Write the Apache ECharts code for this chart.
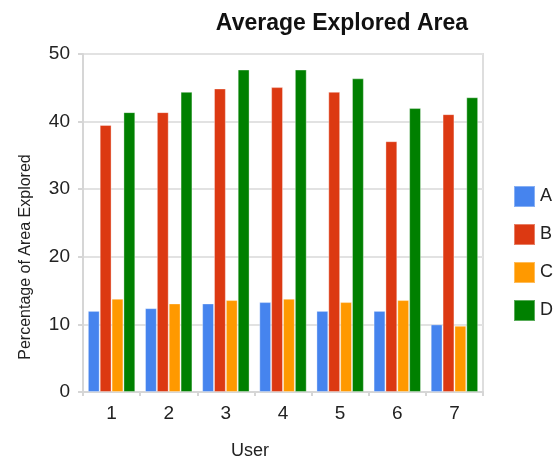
<!DOCTYPE html>
<html>
<head>
<meta charset="utf-8">
<script src="https://cdn.jsdelivr.net/npm/echarts@6/dist/echarts.min.js"></script>
<style>
  html, body { margin: 0; padding: 0; background: #fff; }
  #chart { width: 556px; height: 459px; }
</style>
</head>
<body>
<div id="chart"></div>
<script>
// Average explored area per user, four conditions A–D
var users = ['1', '2', '3', '4', '5', '6', '7'];
var seriesNames = ['A', 'B', 'C', 'D'];
var valuesA = [12.0, 12.4, 13.1, 13.3, 12.0, 12.0, 10.0];
var valuesB = [39.5, 41.4, 44.9, 45.1, 44.4, 37.1, 41.1];
var valuesC = [13.8, 13.1, 13.6, 13.8, 13.3, 13.6, 9.8];
var valuesD = [41.4, 44.4, 47.7, 47.7, 46.4, 42.0, 43.6];
var colors = ['#4684ee', '#dc3912', '#ff9900', '#008000'];

var allValues = [valuesA, valuesB, valuesC, valuesD];
var font = '"Liberation Sans", Arial, sans-serif';

var chart = echarts.init(document.getElementById('chart'), null, { renderer: 'canvas' });

chart.setOption({
  animation: false,
  color: colors,
  textStyle: { fontFamily: font },
  title: {
    text: 'Average Explored Area',
    left: 337,
    top: 7,
    textAlign: 'center',
    textStyle: { fontFamily: font, fontSize: 23, fontWeight: 'bold', color: '#111' }
  },
  legend: {
    orient: 'vertical',
    left: 508,
    top: 180,
    itemWidth: 21,
    itemHeight: 21,
    itemGap: 15,
    icon: 'rect',
    textStyle: { fontFamily: font, fontSize: 18, color: '#222' },
    data: seriesNames
  },
  grid: {
    left: 83,
    right: 73,
    top: 54,
    bottom: 67,
    show: true,
    borderColor: '#dedede',
    borderWidth: 2,
    containLabel: false,
    outerBoundsMode: 'none'
  },
  xAxis: {
    type: 'category',
    data: users,
    name: 'User',
    nameLocation: 'middle',
    nameGap: 50,
    nameTextStyle: { fontFamily: font, fontSize: 18, color: '#222', padding: [0, 66, 0, 0] },
    axisLine: { lineStyle: { color: '#d6d6d6', width: 2 } },
    axisTick: { show: true, length: 4, lineStyle: { color: '#d6d6d6', width: 2 } },
    axisLabel: { fontFamily: font, fontSize: 19, color: '#222', margin: 12 }
  },
  yAxis: {
    type: 'value',
    min: 0,
    max: 50,
    interval: 10,
    name: 'Percentage of Area Explored',
    nameLocation: 'middle',
    nameGap: 49,
    nameTextStyle: { fontFamily: font, fontSize: 16, color: '#222', padding: [0, 68, 0, 0] },
    axisLine: { show: true, lineStyle: { color: '#d6d6d6', width: 2 } },
    axisTick: { show: true, length: 5, lineStyle: { color: '#d6d6d6', width: 2 } },
    axisLabel: { fontFamily: font, fontSize: 19, color: '#222', margin: 13 },
    splitLine: { lineStyle: { color: '#e2e2e2', width: 2 } }
  },
  series: seriesNames.map(function (name, i) {
    return {
      name: name,
      type: 'bar',
      data: allValues[i],
      barGap: '0%',
      barCategoryGap: '17%',
      itemStyle: { color: colors[i], borderColor: 'rgba(255,255,255,0.35)', borderWidth: 1 }
    };
  })
});
</script>
</body>
</html>
